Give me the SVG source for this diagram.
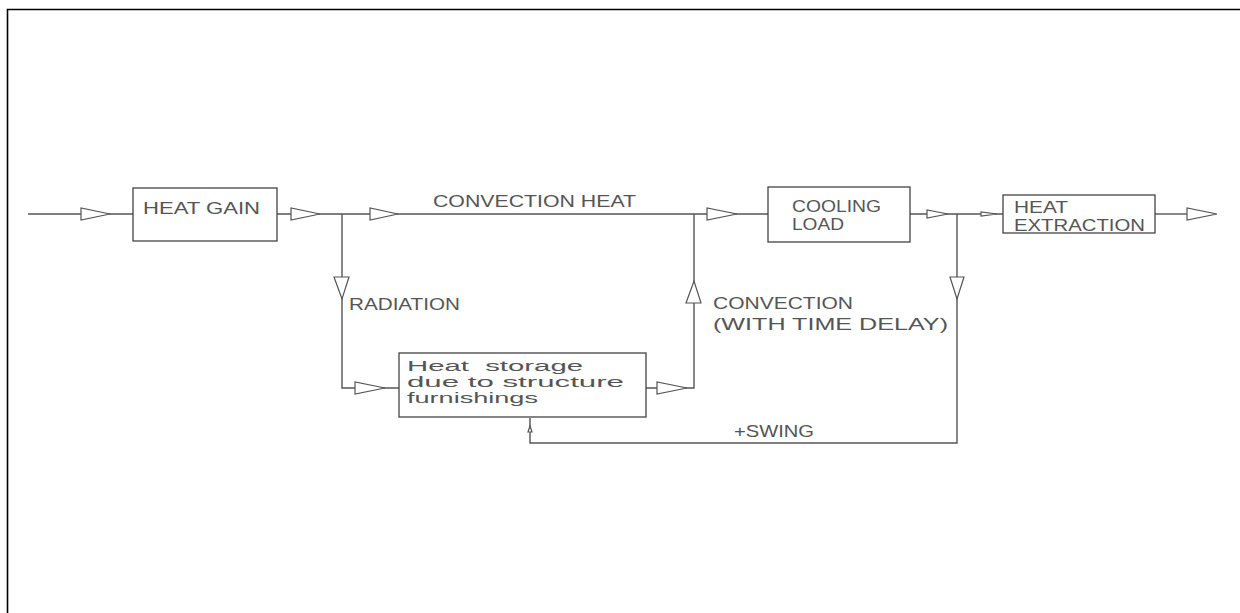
<svg xmlns="http://www.w3.org/2000/svg" width="1240" height="613" viewBox="0 0 1240 613">
<style>
.ln{stroke:#555;stroke-width:1.4;fill:none}
.bx{stroke:#444;stroke-width:1.3;fill:#fff}
.ar{stroke:#555;stroke-width:1.2;fill:#fff}
.t{font-family:"Liberation Sans","DejaVu Sans",sans-serif;fill:#555;font-size:16.5px}
.s{font-size:15.5px}
</style>
<rect width="1240" height="613" fill="#fff"/>
<path d="M7.5 613 V9.5 H1240" stroke="#000" stroke-width="1.6" fill="none"/>
<g id="connectors">
<path class="ln" d="M28 214 H133"/>
<path class="ln" d="M277 214 H768"/>
<path class="ln" d="M910 214 H1003"/>
<path class="ln" d="M1155 214 H1187"/>
<path class="ln" d="M342 214 V388 H399"/>
<path class="ln" d="M646 388 H694 V214"/>
<path class="ln" d="M957 214 V443 H530 V418"/>
<polygon class="ar" points="81,208 81,220 110,214"/>
<polygon class="ar" points="291,208 291,220 320,214"/>
<polygon class="ar" points="370,208 370,220 398,214"/>
<polygon class="ar" points="707,208 707,220 737,214"/>
<polygon class="ar" points="927,210 927,218 948,214"/>
<polygon class="ar" points="981,212 981,216 997,214"/>
<polygon class="ar" points="1187,208 1187,220 1217,214"/>
<polygon class="ar" points="334,277 349,277 342,299"/>
<polygon class="ar" points="686,303 701,303 694,281"/>
<polygon class="ar" points="950,277 964,277 957,299"/>
<polygon class="ar" points="355,382 355,394 385,388"/>
<polygon class="ar" points="657,382 657,394 687,388"/>
<polygon class="ar" points="528,432 532,432 530,426"/>
</g>
<g id="heat-gain">
<rect class="bx" x="133" y="188" width="144" height="53"/>
<text class="t" x="143" y="214" textLength="117" lengthAdjust="spacingAndGlyphs">HEAT  GAIN</text>
</g>
<g id="convection-heat-label">
<text class="t" x="433" y="207" textLength="203" lengthAdjust="spacingAndGlyphs">CONVECTION  HEAT</text>
</g>
<g id="cooling-load">
<rect class="bx" x="768" y="187" width="142" height="55"/>
<text class="t" x="792" y="212" textLength="89" lengthAdjust="spacingAndGlyphs">COOLING</text>
<text class="t" x="792" y="230" textLength="52" lengthAdjust="spacingAndGlyphs">LOAD</text>
</g>
<g id="heat-extraction">
<rect class="bx" x="1003" y="195" width="152" height="38"/>
<text class="t" x="1014" y="213" textLength="54" lengthAdjust="spacingAndGlyphs">HEAT</text>
<text class="t" x="1014" y="231" textLength="131" lengthAdjust="spacingAndGlyphs">EXTRACTION</text>
</g>
<g id="radiation-label">
<text class="t" x="349" y="310" textLength="111" lengthAdjust="spacingAndGlyphs">RADIATION</text>
</g>
<g id="convection-delay-label">
<text class="t" x="713" y="309" textLength="140" lengthAdjust="spacingAndGlyphs">CONVECTION</text>
<text class="t" x="713" y="330" textLength="235" lengthAdjust="spacingAndGlyphs">(WITH TIME DELAY)</text>
</g>
<g id="heat-storage">
<rect class="bx" x="399" y="353" width="247" height="64"/>
<text class="t s" x="407" y="371" textLength="176" lengthAdjust="spacingAndGlyphs" xml:space="preserve">Heat  storage</text>
<text class="t s" x="407" y="387" textLength="217" lengthAdjust="spacingAndGlyphs">due to structure</text>
<text class="t s" x="407" y="403" textLength="131" lengthAdjust="spacingAndGlyphs">furnishings</text>
</g>
<g id="swing-label">
<text class="t" x="734" y="437" textLength="80" lengthAdjust="spacingAndGlyphs">+SWING</text>
</g>
</svg>
